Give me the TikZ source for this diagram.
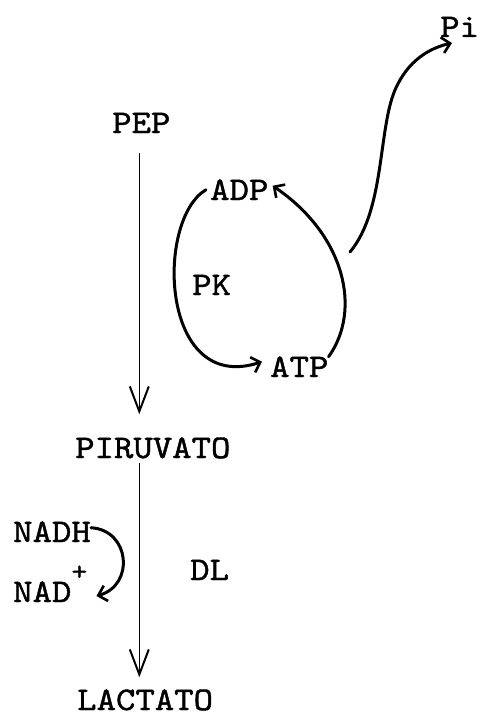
\documentclass[tikz,border=0pt]{standalone}
\usepackage{fontspec}
\setmonofont{lmmono10-regular.otf}[FakeStretch=1.12,FakeBold=1.3]
\usetikzlibrary{arrows.meta}
\begin{document}
\begin{tikzpicture}[x=1pt,y=-1pt,
  lbl/.style={inner sep=0pt, anchor=base west, font=\ttfamily\fontsize{33}{36}\selectfont},
  mainarr/.style={line width=1.5pt, -{Straight Barb[length=25pt,width=19pt,line width=2pt]}},
  curvarr/.style={line width=3pt, line cap=round, -{Straight Barb[length=8pt,width=16pt,line width=2.6pt]}}]
\useasboundingbox (0,0) rectangle (480,717);
\fill[white] (0,0) rectangle (480,717);

% labels
\node[lbl] (PEP) at (112,133) {PEP};
\node[lbl] (PIR) at (75,458) {PIRUVATO};
\node[lbl] (LAC) at (77,710) {LACTATO};
\node[lbl] (NADH) at (13,542) {NADH};
\node[lbl] (NAD) at (13,602) {NAD\raisebox{22pt}{\fontsize{27}{27}\selectfont +}};
\node[lbl] (DL) at (190,580) {DL};
\node[lbl] (ADP) at (210,200) {ADP};
\node[lbl] (ATP) at (270,377) {ATP};
\node[lbl] (PK) at (192,295) {PK};
\node[lbl] (Pi) at (440,37) {Pi};

% main pathway
\draw[mainarr] ([xshift=-2pt,yshift=-20pt]PEP.base) -- ([xshift=-2pt,yshift=23pt]PEP.base |- PIR.north);
\draw[mainarr] ([xshift=-2pt,yshift=-4pt]PEP.base |- PIR.south) -- ([xshift=-2pt,yshift=12pt]PEP.base |- LAC.north);

% PK cycle
\draw[curvarr] ([xshift=-4pt]ADP.west) .. controls (155,220) and (160,395) .. ([xshift=-8pt,yshift=5pt]ATP.west);
\draw[curvarr] ([yshift=10pt]ATP.east) .. controls (362,310) and (345,235) .. ([xshift=4pt,yshift=4pt]ADP.east);

% Pi branch
\coordinate (branch) at (350,252);
\draw[curvarr] (branch) .. controls (385,210) and (378,130) .. (395,90)
  .. controls (408,60) and (430,48) .. ([xshift=12pt,yshift=-6pt]Pi.base west);

% NADH -> NAD+
\draw[curvarr] ([yshift=4pt]NADH.east) .. controls (130,530) and (135,585) .. ([xshift=9pt,yshift=6pt]NAD.base east);
\end{tikzpicture}
\end{document}
